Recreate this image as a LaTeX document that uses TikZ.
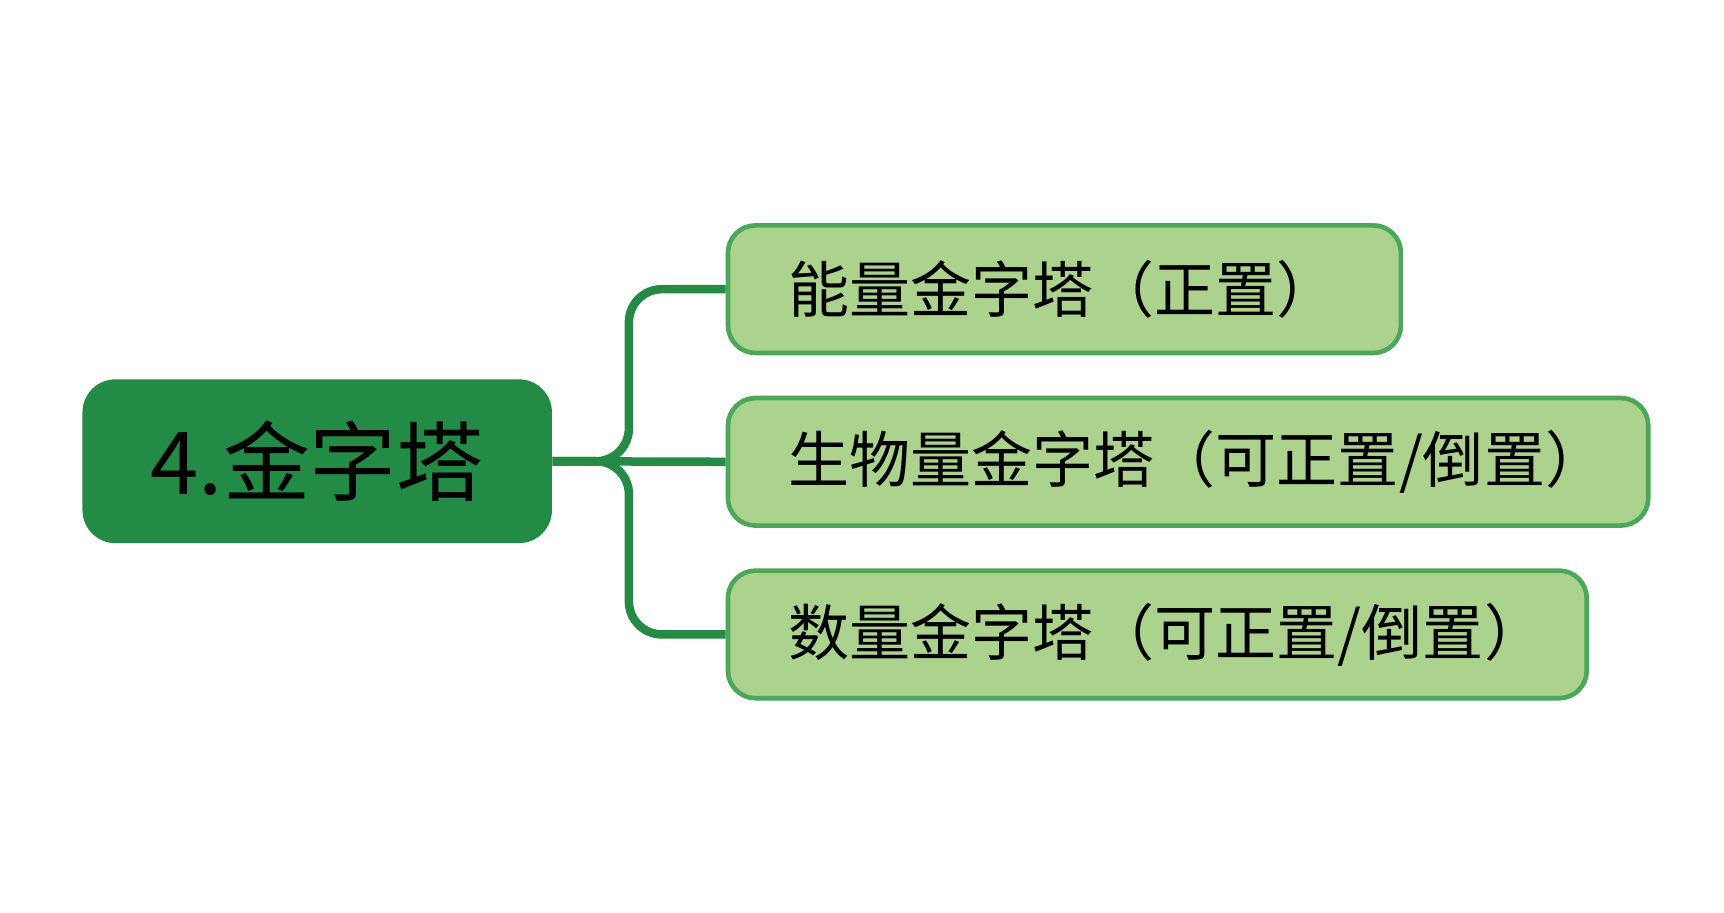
\documentclass[tikz,border=0pt]{standalone}
\usepackage{fontspec}
\newfontfamily\cjk{Noto Sans CJK SC}
\definecolor{rootgreen}{RGB}{34,139,69}
\definecolor{leafgreen}{RGB}{172,211,142}
\definecolor{edgegreen}{RGB}{74,168,88}
\definecolor{linegreen}{RGB}{36,138,68}
\tikzset{
  root/.style={fill=rootgreen,draw=none,rounded corners=0.3cm,minimum width=4.27cm,minimum height=1.49cm,font=\cjk\fontsize{22.5}{26}\selectfont},
  leaf/.style={fill=leafgreen,draw=edgegreen,line width=1.2pt,rounded corners=0.25cm,minimum height=1.16cm,inner xsep=0.55cm,align=left,anchor=west,font=\cjk\fontsize{15.8}{19}\selectfont},
  branch/.style={draw=linegreen,line width=2.2pt,rounded corners=0.3cm}
}
\begin{document}
\begin{tikzpicture}

    % ------------- background
    \useasboundingbox[fill=white] (0,0) rectangle (15.68,8.3);

    % ------------- root node
    \node[root] (root) at (2.885,4.105) {4.金字塔};

    % ------------- leaves
    \node[leaf,text width=5.02cm] (energy) at (6.6,5.67) {能量金字塔（正置）};
    \node[leaf,text width=7.27cm] (biomass) at (6.6,4.10) {生物量金字塔（可正置/倒置）};
    \node[leaf,text width=6.71cm] (number) at (6.6,2.53) {数量金字塔（可正置/倒置）};

    % ------------- branches
    \coordinate (hub) at (5.72,4.105);
    \draw[branch] (root.east) -- (hub) |- (energy.west);
    \draw[branch] (root.east) -- (biomass.west);
    \draw[branch] (root.east) -- (hub) |- (number.west);

\end{tikzpicture}
\end{document}
